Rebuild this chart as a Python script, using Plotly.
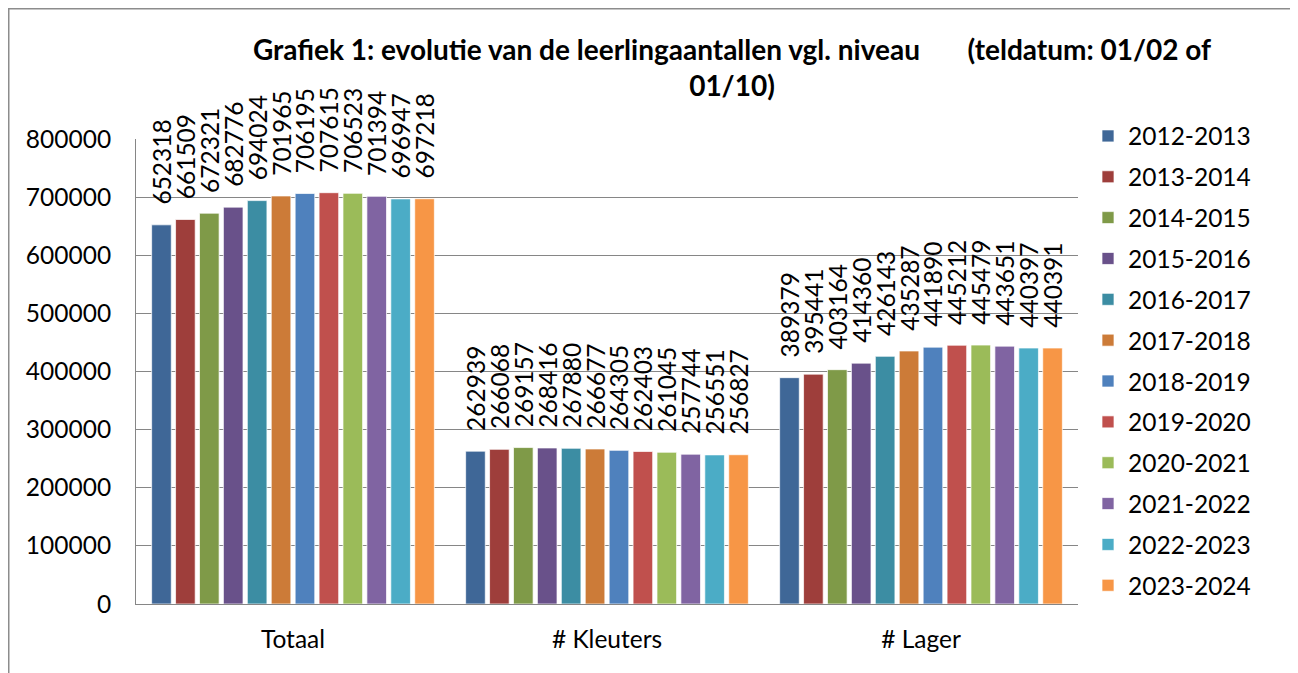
import plotly.graph_objects as go

categories = ["Totaal", "# Kleuters", "# Lager"]
years = ["2012-2013", "2013-2014", "2014-2015", "2015-2016", "2016-2017", "2017-2018",
         "2018-2019", "2019-2020", "2020-2021", "2021-2022", "2022-2023", "2023-2024"]
totaal = [652318, 661509, 672321, 682776, 694024, 701965, 706195, 707615, 706523, 701394, 696947, 697218]
kleuters = [262939, 266068, 269157, 268416, 267880, 266677, 264305, 262403, 261045, 257744, 256551, 256827]
lager = [389379, 395441, 403164, 414360, 426143, 435287, 441890, 445212, 445479, 443651, 440397, 440391]
colors = ["#3F6797", "#9E3E3B", "#7F9A48", "#69518A", "#3C8DA3", "#CC7B38",
          "#4F81BD", "#C0504D", "#9BBB59", "#8064A2", "#4BACC6", "#F79646"]
y_ticks = [0, 100000, 200000, 300000, 400000, 500000, 600000, 700000, 800000]

FONT = "Lato"
FS = 24.5
GRID = "#868686"

# page has an 8px body margin; figure fills the rest of the window
W, H = 1290, 665
ML, MT, PW, PH = 128, 131, 942, 465

fig = go.Figure()
for i, yr in enumerate(years):
    vals = [totaal[i], kleuters[i], lager[i]]
    fig.add_trace(go.Bar(
        name=yr, x=categories, y=vals,
        marker=dict(color=colors[i], line=dict(color="rgba(255,255,255,0.7)", width=1)),
        text=["\u2007\u2009" + str(v) for v in vals],
        textposition="outside", textangle=-90, constraintext="none",
        textfont=dict(family=FONT, size=FS, color="#000000"),
        cliponaxis=False, legendgroup=yr, hoverinfo="x+y+name",
    ))

# chart-area frame (left and top edges visible)
fx_left = (0.75 - ML) / PW
fx_right = (W + 20 - ML) / PW
fy_top = (MT + PH - 0.75) / PH
fy_bottom = -(H - MT - PH + 20) / PH
frame_path = f"M {fx_right},{fy_top} L {fx_left},{fy_top} L {fx_left},{fy_bottom}"

fig.update_layout(
    width=W, height=H,
    margin=dict(l=ML, r=W - ML - PW, t=MT, b=H - MT - PH),
    paper_bgcolor="white", plot_bgcolor="white",
    barmode="group", bargap=0.086, bargroupgap=0.18,
    font=dict(family=FONT, size=FS, color="#000000"),
    title=dict(
        text="Grafiek 1: evolutie van de leerlingaantallen vgl. niveau" + "\u00a0" * 7 + "(teldatum: 01/02 of<br>01/10)",
        font=dict(family=FONT, size=28, color="#000000", weight="bold"),
        x=(724 - ML) / PW, xref="paper", xanchor="center",
        y=1 - 51.5 / H, yref="container", yanchor="middle",
    ),
    legend=dict(
        x=(1080 - ML) / PW, xanchor="left", y=0.5226, yanchor="middle",
        font=dict(family=FONT, size=FS, color="#000000"),
        traceorder="grouped", tracegroupgap=6,
        bgcolor="rgba(0,0,0,0)",
    ),
    xaxis=dict(
        showline=True, linecolor=GRID, linewidth=1, ticks="",
        ticklabelstandoff=14, tickfont=dict(family=FONT, size=FS),
    ),
    yaxis=dict(
        range=[0, 800000], tickvals=y_ticks, ticktext=[str(v) for v in y_ticks],
        showgrid=True, gridcolor=GRID, gridwidth=1,
        showline=True, linecolor=GRID, linewidth=1, zeroline=False,
        ticks="", ticklabelstandoff=19, tickfont=dict(family=FONT, size=FS),
    ),
    shapes=[dict(type="path", xref="paper", yref="paper", path=frame_path,
                 line=dict(color="#8C8C8C", width=1.5), layer="below")],
)
try:
    fig.update_layout(legend_maxheight=700)
except Exception:
    pass

fig.write_html(
    "out.html",
    post_script="document.documentElement.style.overflow='hidden';document.body.style.overflow='hidden';",
)
